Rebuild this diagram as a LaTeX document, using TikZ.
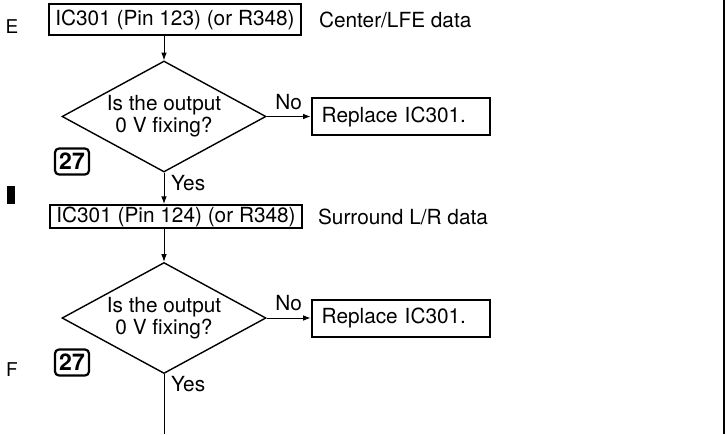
\documentclass[tikz,border=0pt]{standalone}
\usepackage{fontspec}
\setmainfont{TeX Gyre Heros}
\usetikzlibrary{arrows.meta, positioning, shapes.geometric}
\newcommand{\chartfont}{\fontsize{10.4}{11}\selectfont}
\tikzset{
  ibox/.style   = {draw, line width=1pt, minimum width=126pt, inner xsep=3pt,
                   inner ysep=0pt, font=\chartfont},
  rbox/.style   = {draw, line width=1pt, text width=79pt, align=left,
                   inner xsep=5pt, inner ysep=0pt, minimum height=18.5pt,
                   font=\chartfont},
  query/.style  = {draw, diamond, aspect=1.84, line width=0.7pt,
                   minimum width=102pt, minimum height=55.5pt, inner sep=0pt,
                   align=center, font=\chartfont},
  stepno/.style = {draw, rounded corners=2pt, line width=1.1pt,
                   minimum width=17pt, minimum height=13pt, inner sep=0pt,
                   font=\fontsize{11.5}{12}\selectfont\bfseries},
  lbl/.style    = {font=\chartfont},
  rowtag/.style = {font=\fontsize{9.5}{10}\selectfont, inner sep=0pt},
  arr/.style    = {-{Latex[length=3.8pt,width=2.8pt]}, line width=0.5pt}
}

\begin{document}
\begin{tikzpicture}[x=0.5pt, y=-0.5pt]
\useasboundingbox (0,0) rectangle (727,434);

% margin marks
\node[rowtag] (tagE) at (12,27) {E};
\node[rowtag] (tagF) at (12,370) {F};
\fill (7,186) rectangle (15,204);
\draw[line width=0.6pt] (724,0) -- (724,434);

% Center/LFE check
\node[ibox, minimum height=15.5pt] (ic1) at (175,19.5) {IC301 (Pin 123) (or R348)};
\node[lbl, right=5pt of ic1] (sig1) {Center/LFE data};
\node[query] (q1) at (164,116.5) {Is the output\\0 V fixing?};
\node[rbox, right=22pt of q1] (rep1) {Replace IC301.};
\node[stepno] (n1) at (72,161.5) {27};

\draw[arr] (q1.north |- ic1.south) -- (q1.north);
\draw[arr] (q1.east) -- node[lbl, above]{No} (rep1.west);

% Surround L/R check
\node[ibox, minimum height=11.5pt] (ic2) at (176,216.5) {IC301 (Pin 124) (or R348)};
\node[lbl, right=4pt of ic2] (sig2) {Surround L/R data};
\node[query] (q2) at (164,318) {Is the output\\0 V fixing?};
\node[rbox, right=22pt of q2] (rep2) {Replace IC301.};
\node[stepno] (n2) at (72,362.5) {27};

\draw[arr] (q1.south) -- node[lbl, right, pos=0.33]{Yes} (q1.south |- ic2.north);
\draw[arr] (q2.north |- ic2.south) -- (q2.north);
\draw[arr] (q2.east) -- node[lbl, above]{No} (rep2.west);

\coordinate (out) at (164,434);
\draw[line width=0.5pt] (q2.south) -- node[lbl, right, pos=0.17]{Yes} (out);
\end{tikzpicture}
\end{document}
